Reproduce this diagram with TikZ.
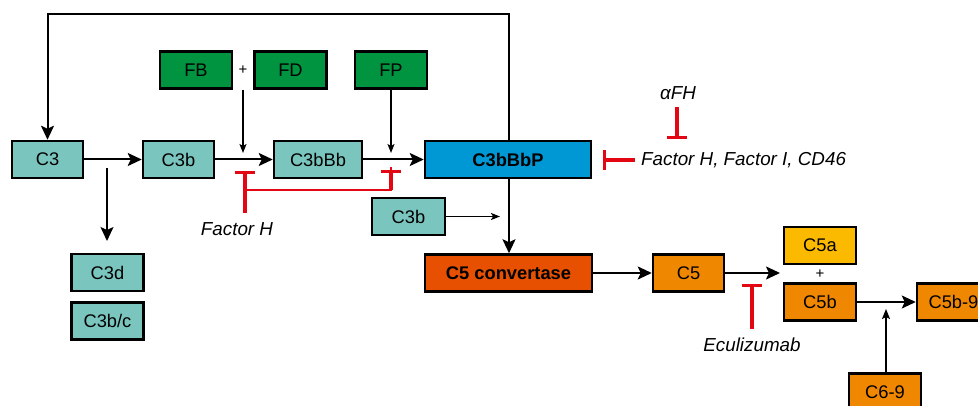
\documentclass[tikz,border=0pt]{standalone}
\usepackage{fontspec}
\setmainfont{Liberation Sans}
\usetikzlibrary{arrows.meta}
\definecolor{teal1}{RGB}{122,197,190}
\definecolor{green1}{RGB}{0,148,64}
\definecolor{blue1}{RGB}{0,152,212}
\definecolor{conv}{RGB}{230,80,0}
\definecolor{orange1}{RGB}{240,135,0}
\definecolor{yellow1}{RGB}{251,186,0}
\definecolor{red1}{RGB}{227,6,19}
\tikzset{
  box/.style={draw=black, line width=2.5pt, minimum height=37pt, inner sep=0pt, font=\fontsize{18.3}{20}\selectfont},
  tealbox/.style={box, fill=teal1, minimum width=71pt},
  greenbox/.style={box, fill=green1, minimum width=72pt},
  orangebox/.style={box, fill=orange1, minimum width=71pt},
  bigarrow/.style={line width=2pt, -{Stealth[length=14pt,width=13pt,inset=3pt]}},
  thinarrow/.style={line width=1.4pt, -{Stealth[length=9pt,width=7pt,inset=2pt]}},
  inhib/.style={draw=red1, line width=3.2pt, -{Bar[width=20pt]}},
  lbl/.style={font=\fontsize{18.8}{20}\selectfont\itshape, inner sep=0pt},
  plus/.style={font=\fontsize{15}{16}\selectfont, inner sep=0pt},
}
\begin{document}
\begin{tikzpicture}[x=1pt,y=-1pt]
\useasboundingbox (0,0) rectangle (978,406);
% nodes
\node[tealbox] (C3) at (47.5,159.5) {C3};
\node[tealbox] (C3b) at (178.5,159.5) {C3b};
\node[tealbox, minimum width=88pt] (C3bBb) at (318,159.5) {C3bBb};
\node[box, fill=blue1, minimum width=166pt, font=\fontsize{18.3}{20}\selectfont\bfseries] (C3bBbP) at (508,159.5) {C3bBbP};
\node[greenbox] (FB) at (196,70) {FB};
\node[greenbox] (FD) at (290.5,70) {FD};
\node[greenbox] (FP) at (391,70) {FP};
\node[plus] (plus1) at (243,70) {+};
\node[tealbox, minimum width=72pt] (C3d) at (107.5,272.5) {C3d};
\node[tealbox, minimum width=72pt] (C3bc) at (107.5,321) {C3b/c};
\node[tealbox, minimum width=73pt] (C3b2) at (408.5,216.5) {C3b};
\node[box, fill=conv, minimum width=167pt, font=\fontsize{18.3}{20}\selectfont\bfseries] (C5conv) at (508.5,273) {C5 convertase};
\node[orangebox] (C5) at (688.5,273) {C5};
\node[box, fill=yellow1, minimum width=72pt] (C5a) at (820,245.5) {C5a};
\node[plus] (plus2) at (820,274) {+};
\node[box, fill=orange1, minimum width=72pt] (C5b) at (820,302) {C5b};
\node[orangebox, minimum width=73pt] (C5b9) at (953.5,302) {C5b-9};
\node[orangebox, minimum width=72pt] (C69) at (885,392) {C6-9};
% labels
\node[lbl] (fh) at (237,229) {Factor H};
\node[lbl] (afh) at (678,93) {αFH};
\node[lbl, anchor=west] (fhi) at (641,160) {Factor H, Factor I, CD46};
\node[lbl] (ecu) at (752,345) {Eculizumab};
% coordinates
\coordinate (top) at (509,14);
\coordinate (j1) at (243,90);
\coordinate (j1e) at (243,153);
\coordinate (j2e) at (391,153);
\coordinate (c3ds) at (107,168);
\coordinate (c3de) at (107,241);
\coordinate (c3b2e) at (500,216.5);
\coordinate (c5e) at (780,273);
\coordinate (c69e) at (886,309);
\coordinate (fhtop) at (245,171);
\coordinate (fhbot) at (245,213);
\coordinate (fhmid) at (245,190);
\coordinate (fh2) at (391,170);
\coordinate (afhs) at (677,107);
\coordinate (afhe) at (677,139);
\coordinate (fhis) at (635,160);
\coordinate (fhie) at (603,160);
\coordinate (ecus) at (752,329);
\coordinate (ecue) at (752,284);
% arrows
\draw[bigarrow] (C3bBbP.north -| top) -- (top) -| (C3.north);
\draw[bigarrow] (C3bBbP.south -| top) -- (C5conv.north -| top);
\draw[bigarrow] (C3) -- (C3b);
\draw[bigarrow] (C3b) -- (C3bBb);
\draw[bigarrow] (C3bBb) -- (C3bBbP);
\draw[thinarrow] (j1) -- (j1e);
\draw[thinarrow] (FP.south) -- (j2e);
\draw[line width=1.6pt, -{Stealth[length=14pt,width=13pt,inset=3pt]}] (c3ds) -- (c3de);
\draw[thinarrow] (C3b2.east) -- (c3b2e);
\draw[bigarrow] (C5conv) -- (C5);
\draw[line width=1.8pt, -{Stealth[length=14pt,width=13pt,inset=3pt]}] (C5.east) -- (c5e);
\draw[line width=1.8pt, -{Stealth[length=14pt,width=13pt,inset=3pt]}] (C5b) -- (C5b9);
\draw[line width=1.5pt, -{Stealth[length=10pt,width=8pt,inset=2pt]}] (C69.north -| c69e) -- (c69e);
% inhibitors
\draw[inhib] (fhbot) -- (fhtop);
\draw[draw=red1, line width=2pt] (fhmid) -- (fhmid -| fh2) -- ([yshift=3pt]fh2);
\draw[inhib] (fhmid -| fh2) -- (fh2);
\draw[inhib] (afhs) -- (afhe);
\draw[inhib] (fhis) -- (fhie);
\draw[inhib] (ecus) -- (ecue);
\end{tikzpicture}
\end{document}
